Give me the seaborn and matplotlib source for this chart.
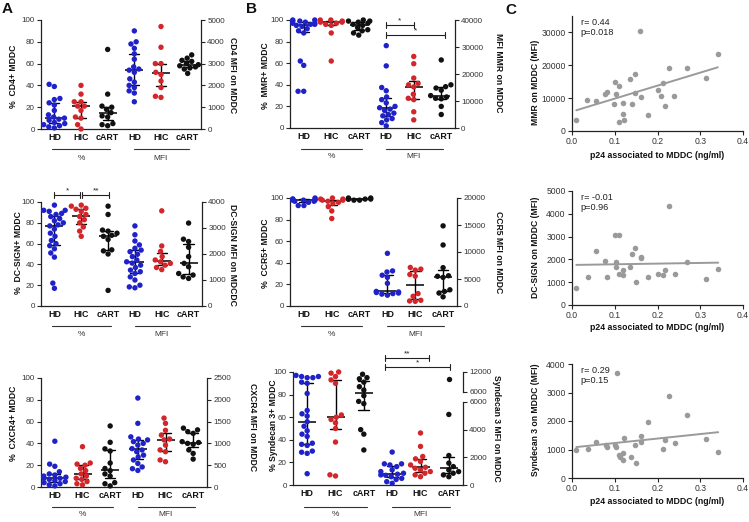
import numpy as np
import pandas as pd
import matplotlib
matplotlib.use("Agg")
import matplotlib.pyplot as plt
import seaborn as sns

# ---------------- data ----------------
GROUPS = ["HD", "HIC", "cART"]
KEYS = ["HD_pct", "HIC_pct", "cART_pct", "HD_mfi", "HIC_mfi", "cART_mfi"]
TICK_LABELS = ["HD", "HIC", "cART", "HD", "HIC", "cART"]

# CD4
cd4_pct_hd = [41, 39, 28, 27, 24, 22, 17, 13, 11, 10, 9, 8, 6, 5, 4, 3, 2, 1]
cd4_pct_hic = [40, 32, 25, 25, 21, 21, 17, 11, 10, 4, 0]
cd4_pct_cart = [73, 32, 21, 20, 18, 15, 12, 11, 5, 4, 3]
cd4_mfi_hd = [4500, 4000, 3900, 3700, 3450, 3200, 2850, 2750, 2700, 2600, 2300, 2150, 2000, 1900, 1750, 1650, 1250]
cd4_mfi_hic = [4700, 3750, 3000, 3000, 2600, 2500, 2200, 1900, 1500, 1450]
cd4_mfi_cart = [3400, 3250, 3150, 3100, 3000, 2950, 2900, 2850, 2800, 2750, 2550]

# DC-SIGN
dc_pct_hd = [97, 92, 92, 91, 89, 88, 86, 84, 82, 80, 78, 77, 74, 70, 67, 63, 60, 58, 55, 51, 47, 22, 17]
dc_pct_hic = [97, 96, 94, 93, 91, 88, 86, 83, 80, 76, 72, 67]
dc_pct_cart = [96, 88, 73, 72, 70, 68, 67, 64, 54, 53, 50, 15]
dc_mfi_hd = [3080, 2740, 2500, 2350, 2220, 2150, 2090, 1990, 1900, 1770, 1700, 1650, 1570, 1480, 1380, 1320, 1250, 1120, 1000, 800, 735, 700]
dc_mfi_hic = [3660, 2310, 2100, 1900, 1770, 1700, 1640, 1570, 1480, 1400]
dc_mfi_cart = [3190, 2570, 2480, 2260, 1900, 1640, 1510, 1250, 1190, 1120, 1060]

# CXCR4
cx_pct_hd = [42, 21, 19, 14, 12, 11, 10, 9, 8, 8, 7, 6, 5, 4, 3, 2, 1]
cx_pct_hic = [37, 22, 21, 20, 17, 15, 12, 10, 8, 7, 5, 3, 2]
cx_pct_cart = [56, 41, 35, 33, 22, 17, 15, 12, 10, 4, 3, 1]
cx_mfi_hd = [2040, 1460, 1150, 1100, 1080, 1040, 1000, 960, 880, 850, 810, 730, 690, 620, 540, 460, 420, 380]
cx_mfi_hic = [1580, 1460, 1300, 1190, 1100, 1080, 960, 850, 810, 620, 580]
cx_mfi_cart = [1350, 1310, 1270, 1230, 1040, 1020, 1000, 980, 850, 770, 640]

# MMR
mmr_pct_hd = [100, 100, 99, 99, 98, 97, 97, 96, 96, 95, 94, 92, 90, 88, 62, 58, 34, 34]
mmr_pct_hic = [100, 100, 99, 99, 98, 98, 97, 96, 95, 88, 62]
mmr_pct_cart = [100, 99, 99, 98, 97, 96, 95, 93, 91, 90, 88, 86]
mmr_mfi_hd = [30500, 23000, 15000, 13800, 11500, 10500, 9300, 8000, 7500, 7000, 6500, 5500, 5000, 4500, 3500, 3000, 2000, 800]
mmr_mfi_hic = [26500, 23800, 18500, 16500, 16000, 15200, 12500, 11000, 10500, 6000, 3000]
mmr_mfi_cart = [25200, 16000, 15300, 14800, 14000, 12000, 11500, 11000, 10800, 8000, 5000]

# CCR5
ccr5_pct_hd = [100, 99, 99, 99, 98, 98, 98, 97, 97, 96, 93, 93]
ccr5_pct_hic = [100, 99, 99, 98, 98, 97, 96, 95, 92, 88, 81]
ccr5_pct_cart = [100, 100, 99, 99, 99, 99, 98, 98]
ccr5_mfi_hd = [9750, 6500, 6300, 5700, 5300, 4200, 2700, 2600, 2500, 2400, 2300, 2200, 2000]
ccr5_mfi_hic = [7140, 6830, 6650, 5840, 5530, 2300, 1800, 1060, 930, 870]
ccr5_mfi_cart = [14840, 11300, 7100, 5600, 5500, 5300, 3000, 2700, 2400, 1700]

# Syndecan 3
syn_pct_hd = [97, 96, 96, 95, 95, 91, 90, 81, 66, 63, 61, 56, 52, 48, 45, 43, 37, 36, 35, 30, 29, 28, 10]
syn_pct_hic = [100, 99, 96, 93, 90, 62, 60, 58, 55, 50, 38, 9, 8]
syn_pct_cart = [98, 95, 94, 91, 87, 84, 79, 74, 72, 49, 45, 31]
syn_mfi_hd = [2380, 1530, 1530, 1450, 1330, 1090, 970, 850, 780, 730, 700, 600, 480, 400, 240, 120]
syn_mfi_hic = [3760, 2790, 2060, 1890, 1700, 1450, 1280, 1210, 1090, 970, 850, 730, 600]
syn_mfi_cart = [10000, 5100, 2130, 1580, 1330, 1090, 970, 850, 730, 600]

# Correlations (p24 associated to MDDC, ng/ml)
p24_mmr = [0.010, 0.035, 0.055, 0.078, 0.082, 0.099, 0.101, 0.104, 0.109, 0.109, 0.119, 0.119, 0.121, 0.136,
           0.140, 0.148, 0.148, 0.160, 0.161, 0.177, 0.200, 0.208, 0.212, 0.218, 0.226, 0.239, 0.269, 0.314, 0.341]
mmr_corr = [3400, 9500, 9000, 11400, 11800, 8300, 15000, 11400, 13600, 2700, 8500, 5200, 3200, 15800,
            8100, 17500, 11600, 30500, 10500, 5000, 12600, 10700, 14600, 7700, 19300, 10800, 19300, 16200, 23500]
p24_dc = [0.010, 0.037, 0.055, 0.078, 0.082, 0.100, 0.103, 0.104, 0.111, 0.111, 0.119, 0.119, 0.136, 0.140,
          0.148, 0.150, 0.161, 0.161, 0.178, 0.201, 0.212, 0.218, 0.226, 0.240, 0.269, 0.314, 0.342]
dc_corr = [730, 1210, 2360, 1940, 1240, 3050, 1870, 1680, 3080, 1360, 1530, 1310, 1650, 2220,
           2480, 1010, 2110, 2070, 1210, 1360, 1310, 1530, 4340, 1380, 1900, 1140, 1560]
p24_syn = [0.010, 0.037, 0.055, 0.080, 0.083, 0.100, 0.103, 0.105, 0.111, 0.113, 0.119, 0.119, 0.121,
           0.138, 0.148, 0.150, 0.161, 0.161, 0.178, 0.212, 0.218, 0.226, 0.240, 0.269, 0.314, 0.342]
syn_corr = [970, 1030, 1270, 1150, 1090, 1150, 1090, 3670, 800, 740, 860, 620, 1420,
            740, 1150, 530, 1480, 1270, 1950, 1030, 1350, 2870, 1240, 2200, 1380, 910]

# ---------------- style ----------------
sns.set_theme(style="ticks")
plt.rcParams["font.family"] = ["Liberation Sans", "DejaVu Sans"]
plt.rcParams["axes.linewidth"] = 0.9
plt.rcParams["axes.edgecolor"] = "#222222"

COLORS = {"HD": "#1f22c8", "HIC": "#d3262a", "cART": "#111111"}
W, H = 749, 522
fig = plt.figure(figsize=(W / 100, H / 100), dpi=100)


def px_axes(l, t, r, b):
    return fig.add_axes([l / W, 1 - b / H, (r - l) / W, (b - t) / H])


def ftext(x, y, s, **kw):
    fig.text(x / W, 1 - y / H, s, **kw)


def long_df(arrs, keys):
    rows = []
    for g, vals, k in zip(GROUPS, arrs, keys):
        for v in vals:
            rows.append((k, g, v))
    return pd.DataFrame(rows, columns=["key", "group", "value"])


def swarm(ax, df):
    sns.swarmplot(data=df, x="key", y="value", hue="group", order=KEYS, hue_order=GROUPS,
                  palette=COLORS, size=3.9, linewidth=0, ax=ax, legend=False, warn_thresh=1)


def stats(ax, df):
    sns.pointplot(data=df, x="key", y="value", order=KEYS, estimator="median",
                  errorbar=("pi", 50), color="black", linestyle="none", marker="_",
                  markersize=12.5, markeredgewidth=1.1, capsize=0.38,
                  err_kws={"linewidth": 1.0}, ax=ax)


def style_y(ax, side):
    ax.tick_params(axis="y", labelsize=5.8, length=3, width=0.8, pad=1.5, labelcolor="#333333")
    ax.set_ylabel("")
    ax.set_xlabel("")
    ax.spines["top"].set_visible(False)
    if side == "right":
        ax.spines["left"].set_visible(False)
        ax.spines["bottom"].set_visible(False)
    else:
        ax.spines["right"].set_visible(False)


def hline_px(ax, box, x0, x1, ypx, lw=0.8, color="#333333"):
    l, t, r, b = box
    yf = (b - ypx) / (b - t)
    ax.plot([x0, x1], [yf, yf], transform=ax.get_xaxis_transform(), color=color,
            lw=lw, clip_on=False)


def bracket(ax, box, x0, x1, ypx, label):
    l, t, r, b = box
    hh = b - t
    yf = (b - ypx) / hh
    d = 3.0 / hh
    tr = ax.get_xaxis_transform()
    ax.plot([x0, x1], [yf, yf], transform=tr, color="#222222", lw=0.8, clip_on=False)
    for xx in (x0, x1):
        ax.plot([xx, xx], [yf - d, yf + d], transform=tr, color="#222222", lw=0.8, clip_on=False)
    ax.text((x0 + x1) / 2, yf + 1.0 / hh, label, transform=tr, ha="center", va="bottom",
            fontsize=6, color="#222222")


def dot_panel(box, pct, mfi, mfi_max, mfi_step, ylab_l, ylab_r, lab_l, lab_r,
              line_y, label_y, brackets=(), broken=None):
    l, t, r, b = box
    ax = px_axes(l, t, r, b)
    dfp = long_df(pct, KEYS[:3])
    dfm = long_df(mfi, KEYS[3:])
    swarm(ax, dfp)
    stats(ax, dfp)
    ax.set_ylim(0, 100)
    ax.set_yticks(range(0, 101, 20))
    style_y(ax, "left")
    right_axes = []
    if broken is None:
        ax2 = ax.twinx()
        swarm(ax2, dfm)
        stats(ax2, dfm)
        ax2.set_ylim(0, mfi_max)
        ax2.set_yticks(np.arange(0, mfi_max + 1, mfi_step))
        style_y(ax2, "right")
        right_axes.append(ax2)
    else:
        lo_top, hi_bottom, lo_max, hi_max = broken
        ax_lo = px_axes(l, lo_top, r, b)
        ax_hi = px_axes(l, t, r, hi_bottom)
        swarm(ax_lo, dfm[dfm["value"] <= lo_max])
        stats(ax_lo, dfm)
        swarm(ax_hi, dfm[dfm["value"] > lo_max])
        ax_lo.set_ylim(0, lo_max)
        ax_lo.set_yticks(np.arange(0, lo_max + 1, mfi_step))
        ax_hi.set_ylim(lo_max, hi_max)
        ax_hi.set_yticks([lo_max, hi_max])
        for a in (ax_lo, ax_hi):
            a.patch.set_visible(False)
            a.yaxis.tick_right()
            style_y(a, "right")
            a.set_xticks([])
            a.set_xlim(-0.5, 5.5)
            right_axes.append(a)
    for a in [ax] + right_axes:
        for c in a.collections:
            c.set_clip_on(False)
        for ln in a.lines:
            ln.set_clip_on(False)
    ax.set_xlim(-0.5, 5.5)
    ax.set_xticks(range(6))
    ax.set_xticklabels(TICK_LABELS, fontweight="bold", fontsize=6.4, color="#111111")
    ax.tick_params(axis="x", length=0, pad=3)
    ax.set_xlabel("")
    hline_px(ax, box, -0.1, 2.1, line_y)
    hline_px(ax, box, 3.0, 5.05, line_y)
    yf = (b - label_y) / (b - t)
    ax.text(1.0, yf, "%", transform=ax.get_xaxis_transform(), ha="center", va="center",
            fontsize=6, color="#333333")
    ax.text(4.0, yf, "MFI", transform=ax.get_xaxis_transform(), ha="center", va="center",
            fontsize=6, color="#333333")
    for (x0, x1, ypx, lab) in brackets:
        bracket(ax, box, x0, x1, ypx, lab)
    ftext(lab_l[0], lab_l[1], ylab_l, rotation=90, ha="center", va="center",
          fontsize=6.2, fontweight="bold", color="#111111")
    ftext(lab_r[0], lab_r[1], ylab_r, rotation=270, ha="center", va="center",
          fontsize=6.2, fontweight="bold", color="#111111")
    return ax


def corr_panel(box, x, y, ymax, ystep, ylab, lab_y, xlab_y, txt):
    l, t, r, b = box
    ax = px_axes(l, t, r, b)
    sns.regplot(x=np.array(x), y=np.array(y), ci=None, ax=ax, color="#9a9a9a",
                scatter_kws={"s": 16, "linewidths": 0, "alpha": 1},
                line_kws={"linewidth": 1.4, "color": "#9a9a9a"})
    ax.set_xlim(0, 0.4)
    ax.set_ylim(0, ymax)
    ax.set_xticks([0.0, 0.1, 0.2, 0.3, 0.4])
    ax.set_xticklabels(["0.0", "0.1", "0.2", "0.3", "0.4"])
    ax.set_yticks(np.arange(0, ymax + 1, ystep))
    ax.tick_params(labelsize=6.2, length=3, width=0.8, pad=1.5, labelcolor="#333333")
    for s in ["top", "right"]:
        ax.spines[s].set_visible(False)
    ax.set_xlabel("")
    ax.set_ylabel("")
    for c in ax.collections:
        c.set_clip_on(False)
    ax.text(0.05, 0.985, txt, transform=ax.transAxes, ha="left", va="top",
            fontsize=6.6, color="#222222", linespacing=1.15)
    ftext(535, lab_y, ylab, rotation=90, ha="center", va="center", fontsize=6.2,
          fontweight="bold", color="#111111")
    ftext(657, xlab_y, "p24 associated to MDDC (ng/ml)", ha="center", va="center",
          fontsize=6.3, fontweight="bold", color="#111111")
    return ax


# ---------------- panel A ----------------
dot_panel((41, 20, 201, 129),
          [cd4_pct_hd, cd4_pct_hic, cd4_pct_cart], [cd4_mfi_hd, cd4_mfi_hic, cd4_mfi_cart],
          5000, 1000, "%  CD4+ MDDC", "CD4 MFI on MDDC", (14, 76), (232, 75), 149, 158)

dot_panel((41, 202, 202, 306),
          [dc_pct_hd, dc_pct_hic, dc_pct_cart], [dc_mfi_hd, dc_mfi_hic, dc_mfi_cart],
          4000, 1000, "%  DC-SIGN+ MDDC", "DC-SIGN MFI on MDCDC", (19, 253), (233, 255), 326, 334,
          brackets=[(0.0, 0.95, 195, "*"), (1.03, 2.05, 195, "**")])

dot_panel((41, 378, 207, 487),
          [cx_pct_hd, cx_pct_hic, cx_pct_cart], [cx_mfi_hd, cx_mfi_hic, cx_mfi_cart],
          2500, 500, "%  CXCR4+ MDDC", "CXCR4 MFI on MDDC", (14, 423), (253, 427), 507, 515)

# ---------------- panel B ----------------
dot_panel((290, 20, 455, 128),
          [mmr_pct_hd, mmr_pct_hic, mmr_pct_cart], [mmr_mfi_hd, mmr_mfi_hic, mmr_mfi_cart],
          40000, 10000, "%  MMR+ MDDC", "MFI MMR on MDDC", (265, 76), (498, 73), 149, 156,
          brackets=[(3.0, 4.0, 25, "*"), (3.0, 5.15, 35, "*")])

dot_panel((290, 198, 457, 306),
          [ccr5_pct_hd, ccr5_pct_hic, ccr5_pct_cart], [ccr5_mfi_hd, ccr5_mfi_hic, ccr5_mfi_cart],
          20000, 5000, "%  CCR5+ MDDC", "CCR5 MFI on MDDC", (265, 253), (498, 252), 326, 334)

dot_panel((293, 372, 463, 485),
          [syn_pct_hd, syn_pct_hic, syn_pct_cart], [syn_mfi_hd, syn_mfi_hic, syn_mfi_cart],
          6000, 2000, "% Syndecan 3+ MDDC", "Syndecan 3 MFI on MDDC", (273, 425), (497, 428), 507, 515,
          brackets=[(2.75, 4.3, 358, "**"), (2.75, 5.05, 367, "*")],
          broken=(402, 392, 6000, 12000))

# ---------------- panel C ----------------
corr_panel((572, 16, 743, 131), p24_mmr, mmr_corr, 35000, 10000, "MMR on MDDC (MFI)", 82, 155,
           "r= 0.44\np=0.018")
corr_panel((572, 191, 743, 305), p24_dc, dc_corr, 5000, 1000, "DC-SIGN on MDDC (MFI)", 247, 327,
           "r= -0.01\np=0.96")
corr_panel((572, 364, 743, 478), p24_syn, syn_corr, 4000, 1000, "Syndecan 3 on MDDC (MFI)", 420, 501,
           "r= 0.29\np=0.15")

for (lx, ly, s) in [(7, 9, "A"), (251, 9, "B"), (511, 10, "C")]:
    ftext(lx, ly, s, ha="center", va="center", fontsize=11, fontweight="bold", color="#111111")

fig.savefig("out.png", dpi=100)
